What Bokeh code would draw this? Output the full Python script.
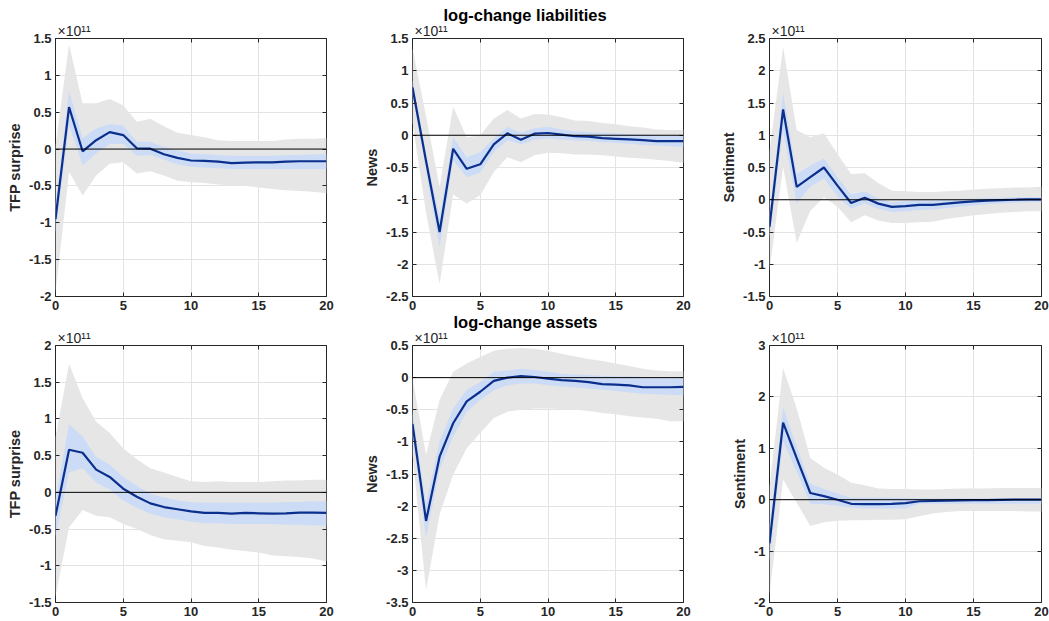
from bokeh.plotting import figure
from bokeh.models import Span, Title, LinearAxis, FixedTicker, Range1d
from bokeh.layouts import column, row
from bokeh.embed import file_html
from bokeh.resources import INLINE

# horizon (quarters)
horizon = list(range(21))

# values in units of 1e11 (axis shows "x10^11")
# ---- liabilities, TFP surprise
med_l_tfp = [-0.95, 0.57, -0.03, 0.12, 0.23, 0.19, 0.01, 0.005, -0.07, -0.12, -0.155, -0.16, -0.17, -0.19, -0.185, -0.18, -0.18, -0.17, -0.165, -0.165, -0.165]
hi90_l_tfp = [0.05, 1.42, 0.62, 0.62, 0.68, 0.59, 0.37, 0.41, 0.31, 0.22, 0.19, 0.16, 0.12, 0.11, 0.11, 0.11, 0.11, 0.13, 0.14, 0.14, 0.15]
lo90_l_tfp = [-1.95, -0.31, -0.63, -0.36, -0.2, -0.18, -0.33, -0.3, -0.36, -0.43, -0.45, -0.46, -0.48, -0.49, -0.5, -0.52, -0.54, -0.56, -0.57, -0.58, -0.6]
hi68_l_tfp = [-0.74, 0.79, 0.15, 0.28, 0.34, 0.32, 0.1, 0.1, 0.03, -0.02, -0.06, -0.07, -0.08, -0.09, -0.09, -0.09, -0.09, -0.08, -0.08, -0.07, -0.07]
lo68_l_tfp = [-1.14, 0.33, -0.22, -0.06, 0.07, 0.07, -0.09, -0.08, -0.14, -0.21, -0.24, -0.25, -0.26, -0.27, -0.27, -0.27, -0.27, -0.27, -0.27, -0.27, -0.27]

# ---- liabilities, News
med_l_news = [0.74, -0.4, -1.5, -0.21, -0.52, -0.45, -0.14, 0.03, -0.07, 0.025, 0.035, 0.01, -0.015, -0.02, -0.045, -0.055, -0.065, -0.075, -0.09, -0.09, -0.09]
hi90_l_news = [1.35, 0.3, -0.8, 0.44, -0.03, 0.0, 0.26, 0.39, 0.26, 0.33, 0.32, 0.28, 0.23, 0.22, 0.19, 0.17, 0.14, 0.12, 0.09, 0.08, 0.08]
lo90_l_news = [0.2, -1.2, -2.31, -0.92, -1.06, -0.93, -0.57, -0.34, -0.42, -0.31, -0.27, -0.28, -0.3, -0.3, -0.31, -0.33, -0.35, -0.36, -0.38, -0.4, -0.43]
hi68_l_news = [0.86, -0.3, -1.27, -0.03, -0.34, -0.26, -0.05, 0.13, 0.04, 0.11, 0.13, 0.09, 0.06, 0.05, 0.04, 0.03, 0.02, 0.01, 0.0, -0.01, -0.01]
lo68_l_news = [0.63, -0.55, -1.74, -0.39, -0.65, -0.58, -0.26, -0.08, -0.14, -0.07, -0.05, -0.07, -0.08, -0.09, -0.11, -0.12, -0.13, -0.15, -0.16, -0.17, -0.18]

# ---- liabilities, Sentiment
med_l_sent = [-0.42, 1.4, 0.2, 0.35, 0.5, 0.22, -0.05, 0.03, -0.06, -0.11, -0.1, -0.08, -0.08, -0.06, -0.04, -0.025, -0.015, -0.005, 0.0, 0.005, 0.005]
hi90_l_sent = [0.75, 2.37, 1.08, 0.97, 1.03, 0.71, 0.4, 0.41, 0.26, 0.14, 0.13, 0.12, 0.12, 0.13, 0.14, 0.16, 0.17, 0.18, 0.19, 0.19, 0.2]
lo90_l_sent = [-1.1, 0.51, -0.67, -0.17, 0.04, -0.11, -0.35, -0.24, -0.32, -0.36, -0.36, -0.35, -0.34, -0.3, -0.27, -0.24, -0.22, -0.2, -0.19, -0.18, -0.18]
hi68_l_sent = [-0.22, 1.67, 0.4, 0.53, 0.64, 0.35, 0.08, 0.13, 0.02, -0.04, -0.02, -0.01, -0.01, 0.0, 0.01, 0.02, 0.03, 0.03, 0.04, 0.04, 0.04]
lo68_l_sent = [-0.6, 1.07, -0.06, 0.2, 0.33, 0.05, -0.14, -0.06, -0.14, -0.19, -0.18, -0.16, -0.15, -0.13, -0.11, -0.09, -0.07, -0.06, -0.05, -0.04, -0.04]

# ---- assets, TFP surprise
med_a_tfp = [-0.32, 0.58, 0.54, 0.31, 0.21, 0.05, -0.06, -0.15, -0.2, -0.23, -0.26, -0.28, -0.28, -0.29, -0.28, -0.285, -0.29, -0.285, -0.275, -0.275, -0.28]
hi90_a_tfp = [0.75, 1.75, 1.28, 0.96, 0.81, 0.6, 0.45, 0.33, 0.27, 0.21, 0.15, 0.14, 0.15, 0.14, 0.14, 0.14, 0.15, 0.16, 0.16, 0.17, 0.17]
lo90_a_tfp = [-1.42, -0.48, -0.24, -0.32, -0.34, -0.43, -0.5, -0.58, -0.64, -0.66, -0.68, -0.73, -0.75, -0.78, -0.8, -0.82, -0.86, -0.87, -0.88, -0.9, -0.94]
hi68_a_tfp = [-0.1, 0.93, 0.76, 0.48, 0.38, 0.21, 0.09, -0.02, -0.07, -0.11, -0.13, -0.14, -0.14, -0.14, -0.14, -0.14, -0.14, -0.13, -0.13, -0.12, -0.12]
lo68_a_tfp = [-0.6, 0.27, 0.33, 0.13, 0.04, -0.11, -0.21, -0.29, -0.34, -0.37, -0.4, -0.42, -0.42, -0.43, -0.43, -0.43, -0.43, -0.44, -0.44, -0.45, -0.45]

# ---- assets, News
med_a_news = [-0.72, -2.23, -1.23, -0.71, -0.37, -0.22, -0.05, 0.0, 0.025, 0.01, -0.015, -0.04, -0.05, -0.07, -0.1, -0.11, -0.12, -0.15, -0.15, -0.15, -0.145]
hi90_a_news = [0.0, -1.2, -0.35, 0.09, 0.22, 0.32, 0.42, 0.45, 0.46, 0.45, 0.42, 0.37, 0.33, 0.29, 0.26, 0.22, 0.18, 0.14, 0.11, 0.1, 0.1]
lo90_a_news = [-1.2, -3.31, -2.13, -1.51, -1.1, -0.86, -0.63, -0.53, -0.5, -0.48, -0.48, -0.49, -0.5, -0.52, -0.55, -0.57, -0.6, -0.62, -0.64, -0.68, -0.68]
hi68_a_news = [-0.54, -1.97, -0.99, -0.48, -0.19, -0.07, 0.09, 0.11, 0.14, 0.12, 0.09, 0.06, 0.05, 0.04, 0.03, 0.02, 0.02, 0.01, 0.01, 0.01, 0.01]
lo68_a_news = [-0.92, -2.49, -1.43, -0.92, -0.53, -0.35, -0.2, -0.12, -0.09, -0.09, -0.12, -0.14, -0.15, -0.17, -0.19, -0.21, -0.23, -0.25, -0.26, -0.27, -0.27]

# ---- assets, Sentiment
med_a_sent = [-0.85, 1.5, 0.81, 0.13, 0.07, 0.0, -0.08, -0.085, -0.085, -0.08, -0.065, -0.03, -0.025, -0.02, -0.015, -0.01, -0.01, -0.005, 0.0, 0.0, 0.0]
hi90_a_sent = [0.25, 2.56, 1.78, 0.81, 0.62, 0.49, 0.33, 0.28, 0.22, 0.21, 0.21, 0.2, 0.2, 0.21, 0.22, 0.22, 0.22, 0.23, 0.23, 0.23, 0.23]
lo90_a_sent = [-1.85, 0.39, -0.06, -0.51, -0.44, -0.41, -0.4, -0.4, -0.39, -0.39, -0.38, -0.32, -0.27, -0.24, -0.22, -0.22, -0.22, -0.22, -0.22, -0.23, -0.23]
hi68_a_sent = [-0.5, 1.8, 1.04, 0.31, 0.21, 0.12, 0.04, 0.04, 0.04, 0.04, 0.04, 0.03, 0.03, 0.03, 0.03, 0.03, 0.03, 0.03, 0.03, 0.03, 0.03]
lo68_a_sent = [-1.2, 1.13, 0.55, -0.08, -0.09, -0.12, -0.15, -0.17, -0.17, -0.17, -0.17, -0.08, -0.08, -0.08, -0.08, -0.08, -0.08, -0.08, -0.08, -0.08, -0.08]

# tick labels
x_ticks = [0, 5, 10, 15, 20]
x_tick_labels = ["0", "5", "10", "15", "20"]
yt_l_tfp = [-2, -1.5, -1, -0.5, 0, 0.5, 1, 1.5]
yl_l_tfp = ["-2", "-1.5", "-1", "-0.5", "0", "0.5", "1", "1.5"]
yt_l_news = [-2.5, -2, -1.5, -1, -0.5, 0, 0.5, 1, 1.5]
yl_l_news = ["-2.5", "-2", "-1.5", "-1", "-0.5", "0", "0.5", "1", "1.5"]
yt_l_sent = [-1.5, -1, -0.5, 0, 0.5, 1, 1.5, 2, 2.5]
yl_l_sent = ["-1.5", "-1", "-0.5", "0", "0.5", "1", "1.5", "2", "2.5"]
yt_a_tfp = [-1.5, -1, -0.5, 0, 0.5, 1, 1.5, 2]
yl_a_tfp = ["-1.5", "-1", "-0.5", "0", "0.5", "1", "1.5", "2"]
yt_a_news = [-3.5, -3, -2.5, -2, -1.5, -1, -0.5, 0, 0.5]
yl_a_news = ["-3.5", "-3", "-2.5", "-2", "-1.5", "-1", "-0.5", "0", "0.5"]
yt_a_sent = [-2, -1, 0, 1, 2, 3]
yl_a_sent = ["-2", "-1", "0", "1", "2", "3"]

row_titles = ["log-change liabilities", "log-change assets"]
shock_names = ["TFP surprise", "News", "Sentiment"]
exponent_text = "\u00d710\u00b9\u00b9"

FONT = "Liberation Sans"
AXC = "#262626"
GRAY = "#e6e6e6"
BLUE_BAND = "#cddcf6"
LINE = "#0b2f8c"

panels = [
    [(med_l_tfp, lo90_l_tfp, hi90_l_tfp, lo68_l_tfp, hi68_l_tfp, yt_l_tfp, yl_l_tfp),
     (med_l_news, lo90_l_news, hi90_l_news, lo68_l_news, hi68_l_news, yt_l_news, yl_l_news),
     (med_l_sent, lo90_l_sent, hi90_l_sent, lo68_l_sent, hi68_l_sent, yt_l_sent, yl_l_sent)],
    [(med_a_tfp, lo90_a_tfp, hi90_a_tfp, lo68_a_tfp, hi68_a_tfp, yt_a_tfp, yl_a_tfp),
     (med_a_news, lo90_a_news, hi90_a_news, lo68_a_news, hi68_a_news, yt_a_news, yl_a_news),
     (med_a_sent, lo90_a_sent, hi90_a_sent, lo68_a_sent, hi68_a_sent, yt_a_sent, yl_a_sent)],
]

col_w = [336, 357, 356]
col_bl = [55, 76, 76]
col_br = [10, 10, 8]
row_h = [314, 307]
row_bt = [38, 29]
row_bb = [18, 19]
title_offsets = [31, 41]


def style_axis(ax, ticks, labels, show_labels=True):
    ax.ticker = FixedTicker(ticks=ticks)
    ax.minor_tick_line_color = None
    ax.major_tick_in = 4
    ax.major_tick_out = 0
    ax.major_tick_line_color = AXC
    ax.axis_line_color = None
    ax.major_label_text_font = FONT
    ax.major_label_text_font_style = "bold"
    ax.major_label_text_font_size = "13px"
    if show_labels:
        ax.major_label_overrides = {t: s for t, s in zip(ticks, labels)}
        ax.major_label_text_color = AXC
        ax.major_label_standoff = 4
    else:
        ax.major_label_overrides = {t: "" for t in ticks}
        ax.major_label_text_color = None
        ax.major_label_standoff = 0


rows = []
for r in range(2):
    figs = []
    for c in range(3):
        med, lo90, hi90, lo68, hi68, yt, yl = panels[r][c]
        ymin, ymax = yt[0], yt[-1]
        p = figure(width=col_w[c], height=row_h[r], output_backend="svg",
                   toolbar_location=None,
                   x_range=Range1d(0, 20), y_range=Range1d(ymin, ymax),
                   min_border_left=col_bl[c], min_border_right=col_br[c],
                   min_border_top=row_bt[r], min_border_bottom=row_bb[r])
        p.outline_line_color = AXC
        p.outline_line_width = 1
        p.background_fill_color = "white"
        p.border_fill_color = "white"
        p.grid.grid_line_color = "#e3e3e3"
        p.grid.grid_line_width = 1
        p.xgrid.ticker = FixedTicker(ticks=x_ticks)
        p.ygrid.ticker = FixedTicker(ticks=yt)

        style_axis(p.xaxis[0], x_ticks, x_tick_labels)
        style_axis(p.yaxis[0], yt, yl)
        p.yaxis[0].axis_label = shock_names[c]
        p.yaxis[0].axis_label_text_font = FONT
        p.yaxis[0].axis_label_text_font_style = "bold"
        p.yaxis[0].axis_label_text_font_size = "14.5px"
        p.yaxis[0].axis_label_text_color = AXC
        p.yaxis[0].axis_label_standoff = 3

        ra = LinearAxis()
        style_axis(ra, yt, yl, show_labels=False)
        p.add_layout(ra, "right")

        ta = LinearAxis()
        style_axis(ta, x_ticks, x_tick_labels, show_labels=False)
        p.add_layout(ta, "above")

        p.varea(x=horizon, y1=lo90, y2=hi90, fill_color=GRAY, fill_alpha=1)
        p.varea(x=horizon, y1=lo68, y2=hi68, fill_color=BLUE_BAND, fill_alpha=1)
        p.add_layout(Span(location=0, dimension="width", line_color="black", line_width=1))
        p.line(x=horizon, y=med, line_color=LINE, line_width=2.2)

        p.add_layout(Title(text=exponent_text, align="left", offset=2, standoff=0,
                           text_font=FONT, text_font_size="14px",
                           text_font_style="normal", text_color=AXC), "above")
        if c == 1:
            p.add_layout(Title(text=row_titles[r], align="left", offset=title_offsets[r],
                               standoff=-7, text_font=FONT, text_font_style="bold",
                               text_font_size="16.5px", text_color="black"), "above")
        figs.append(p)
    rows.append(row(*figs))

layout = column(*rows)
open("out.html", "w").write(file_html(layout, INLINE))
